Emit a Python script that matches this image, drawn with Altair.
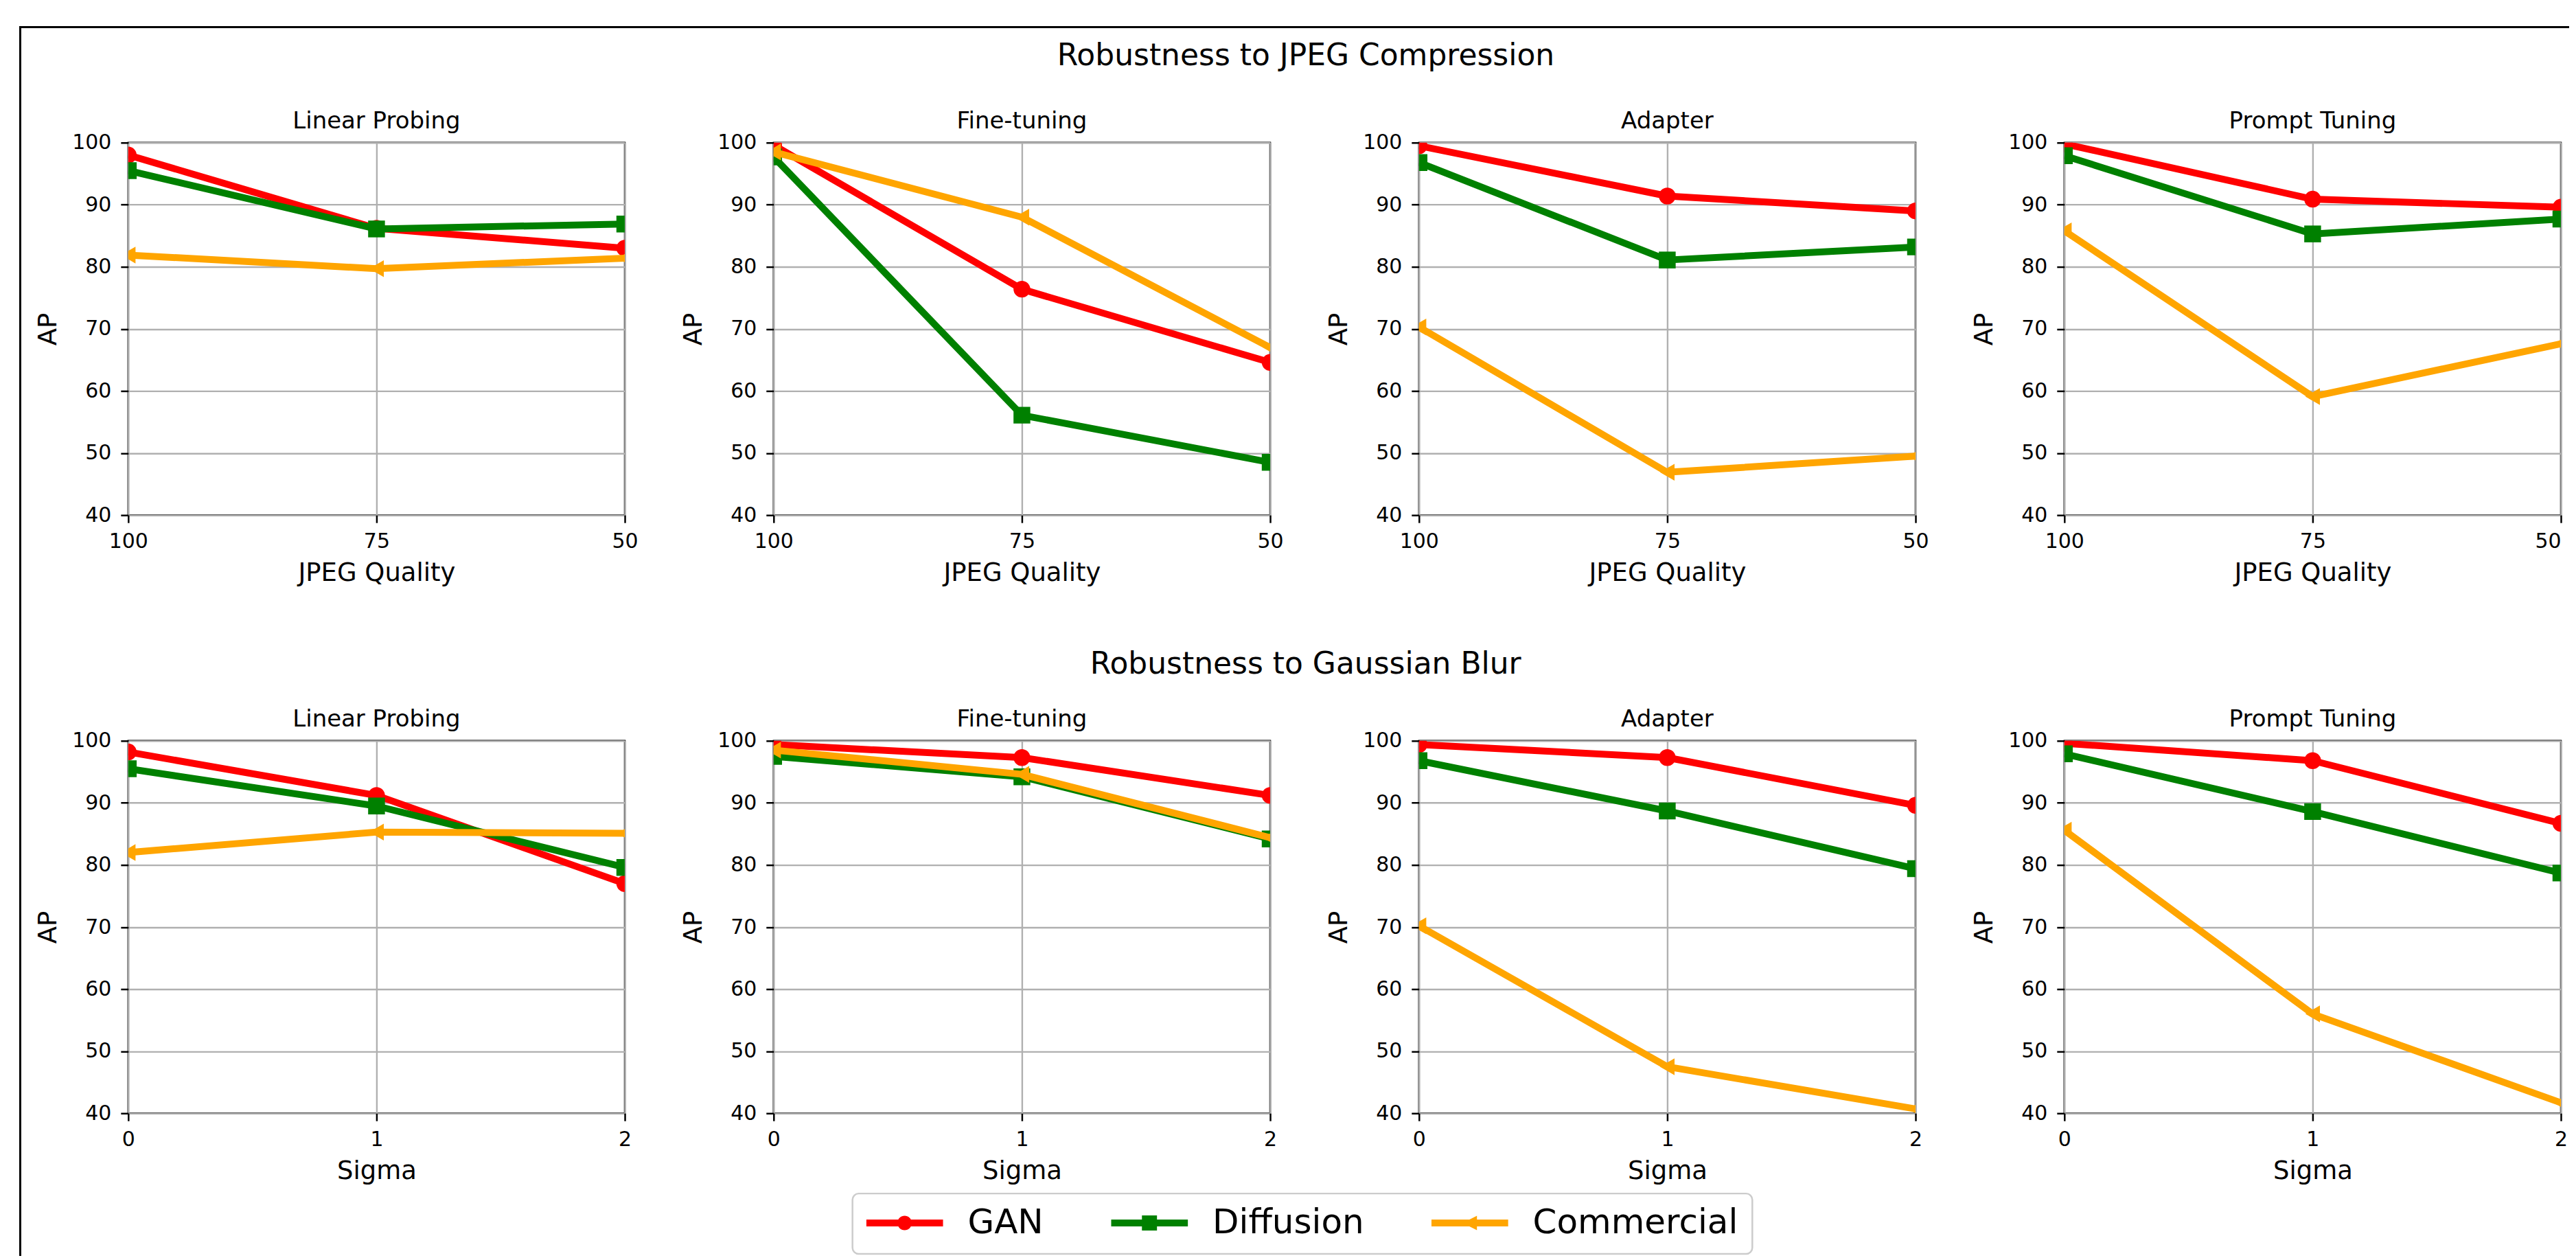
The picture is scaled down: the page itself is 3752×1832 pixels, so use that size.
import altair as alt
import pandas as pd

# ---------------- data ----------------
SERIES = ["GAN", "Diffusion", "Commercial"]
METHODS = ["Linear Probing", "Fine-tuning", "Adapter", "Prompt Tuning"]
JPEG_QUALITY = [100, 75, 50]
SIGMA = [0, 1, 2]
AP_TICKS = [40, 50, 60, 70, 80, 90, 100]

# one inner list per method (METHODS order), values at JPEG quality 100, 75, 50
JPEG_GAN = [[98.0, 86.2, 83.0], [99.6, 76.4, 64.6], [99.5, 91.4, 89.0], [99.8, 90.9, 89.6]]
JPEG_DIFFUSION = [[95.5, 86.1, 86.9], [97.7, 56.1, 48.5], [96.8, 81.1, 83.2], [97.9, 85.3, 87.7]]
JPEG_COMMERCIAL = [[81.9, 79.7, 81.4], [98.5, 88.0, 67.0], [70.3, 46.9, 49.5], [85.8, 59.1, 67.6]]

# values at sigma 0, 1, 2
BLUR_GAN = [[98.2, 91.2, 77.0], [99.4, 97.3, 91.2], [99.4, 97.3, 89.6], [99.6, 96.8, 86.7]]
BLUR_DIFFUSION = [[95.5, 89.5, 79.6], [97.5, 94.2, 84.2], [96.8, 88.7, 79.4], [97.9, 88.6, 78.7]]
BLUR_COMMERCIAL = [[82.0, 85.3, 85.1], [98.5, 94.6, 84.4], [70.2, 47.5, 40.7], [85.6, 56.0, 41.7]]

# ---------------- style ----------------
FONT = "DejaVu Sans"
COLORS = ["#ff0000", "#008000", "#ffa500"]
MARKERS = ["circle", "square", "triangle-left"]
# legend symbols: a line with the series marker in the middle (unit box -1..1)
LEGEND_SYMBOLS = [
    "M-1,-0.089L1,-0.089L1,0.089L-1,0.089Z"
    "M0.1875,0A0.1875,0.1875,0,1,1,-0.1875,0A0.1875,0.1875,0,1,1,0.1875,0Z",
    "M-1,-0.089L1,-0.089L1,0.089L-1,0.089Z"
    "M-0.196,-0.196L0.196,-0.196L0.196,0.196L-0.196,0.196Z",
    "M-1,-0.089L1,-0.089L1,0.089L-1,0.089Z"
    "M-0.1875,0L0.1875,-0.1875L0.1875,0.1875Z",
]
PW, PH = 724, 543
GAP_X = 217


def make_df(xs, groups, m):
    rows = []
    for s, vals in zip(SERIES, groups):
        for xv, v in zip(xs, vals[m]):
            rows.append({"x": xv, "ap": v, "series": s})
    return pd.DataFrame(rows)


def frame_piece(x0, x1, y0, y1):
    # decorative figure border (matplotlib figure frame)
    return alt.Chart(pd.DataFrame({"piece": [0]})).mark_rect(color="black").encode(
        x=alt.value(x0), x2=alt.value(x1), y=alt.value(y0), y2=alt.value(y1)
    )


def jpeg_x(right_last):
    axis_args = dict(values=JPEG_QUALITY, tickCount=len(JPEG_QUALITY), title="JPEG Quality", format="d")
    if right_last:
        axis_args["labelAlign"] = {
            "condition": {"test": f"datum.value == {JPEG_QUALITY[-1]}", "value": "right"},
            "value": "center",
        }
    return alt.X("x:Q", scale=alt.Scale(domain=[50, 100], reverse=True, nice=False, zero=False),
                 axis=alt.Axis(**axis_args))


def sigma_x():
    return alt.X("x:O", scale=alt.Scale(type="point", padding=0, domain=SIGMA),
                 axis=alt.Axis(title="Sigma", labelAngle=0, grid=True))


def panel(m, groups, x, xs, extras, title_offset, legend_layer=None):
    df = make_df(xs, groups, m)
    y = alt.Y("ap:Q", scale=alt.Scale(domain=[40, 100], nice=False, zero=False),
              axis=alt.Axis(values=AP_TICKS, tickCount=len(AP_TICKS), title="AP"))
    layers = list(extras)
    for s, c, mk in zip(SERIES, COLORS, MARKERS):
        base = alt.Chart(df).transform_filter(alt.datum.series == s).encode(x=x, y=y)
        layers.append(base.mark_line(color=c, strokeWidth=10, strokeJoin="round", clip=True))
        layers.append(base.mark_point(shape=mk, filled=True, color=c, size=600, opacity=1,
                                      strokeWidth=0, clip=True))
    if legend_layer is not None:
        layers.append(legend_layer)
    return alt.layer(*layers).properties(
        width=PW, height=PH,
        title=alt.TitleParams(text=METHODS[m], fontSize=34, font=FONT, fontWeight="normal",
                              color="black", anchor="middle", frame="group",
                              baseline="alphabetic", offset=title_offset),
    )


legend_spec = alt.Legend(
    title=None, orient="none", legendX=1056, legendY=1532, direction="horizontal", columns=3,
    symbolSize=12544, symbolStrokeWidth=0, symbolOpacity=1, clipHeight=46,
    labelFont=FONT, labelFontSize=50, labelColor="black", labelOffset=36, labelLimit=600,
    columnPadding=98, padding=20, strokeColor="#cccccc", fillColor="white", cornerRadius=9,
)
legend_layer = alt.Chart(pd.DataFrame({"series": SERIES})).transform_filter("false").mark_point(
    filled=True, opacity=1, strokeWidth=0
).encode(
    color=alt.Color("series:N", scale=alt.Scale(domain=SERIES, range=COLORS), legend=legend_spec),
    shape=alt.Shape("series:N", scale=alt.Scale(domain=SERIES, range=LEGEND_SYMBOLS), legend=legend_spec),
)

jpeg_groups = [JPEG_GAN, JPEG_DIFFUSION, JPEG_COMMERCIAL]
blur_groups = [BLUR_GAN, BLUR_DIFFUSION, BLUR_COMMERCIAL]

row1_panels = []
for m in range(4):
    extras = [frame_piece(-159, 3559, -170, -167), frame_piece(-159, -156, -170, 701)] if m == 0 else []
    row1_panels.append(panel(m, jpeg_groups, jpeg_x(m == 3), JPEG_QUALITY, extras,
                             -183 if m == 0 else -28))

row2_panels = []
for m in range(4):
    extras = [frame_piece(-159, -156, -173, 751)] if m == 0 else []
    row2_panels.append(panel(m, blur_groups, sigma_x(), SIGMA, extras,
                             -186 if m == 0 else -28, legend_layer=legend_layer if m == 3 else None))


def row_title(text, offset, dx):
    return alt.TitleParams(text=text, fontSize=44, font=FONT, fontWeight="normal", color="black",
                           anchor="middle", frame="bounds", baseline="alphabetic", offset=offset, dx=dx)


row1 = alt.hconcat(*row1_panels, spacing=GAP_X, bounds="flush",
                   title=row_title("Robustness to JPEG Compression", -102, 17))
row2 = alt.hconcat(*row2_panels, spacing=GAP_X, bounds="flush",
                   title=row_title("Robustness to Gaussian Blur", -120, 18))

chart = alt.vconcat(row1, row2, spacing=-6).properties(
    padding={"left": 18, "top": 27, "right": 0, "bottom": 0}
).configure(
    font=FONT
).configure_view(
    stroke="black", strokeWidth=2.5
).configure_axis(
    labelFont=FONT, labelFontSize=30, labelColor="black",
    titleFont=FONT, titleFontSize=37, titleFontWeight="normal", titleColor="black",
    tickColor="black", tickWidth=2.5, tickSize=11, domain=False,
    gridColor="#b0b0b0", gridWidth=2.4, gridOpacity=1,
    labelFlush=False, labelOverlap=False,
).configure_axisX(
    labelPadding=12, titlePadding=13
).configure_axisY(
    labelPadding=14, titlePadding=15
).configure_legend(
    strokeWidth=2.5
)

chart.save("out.html", embed_options={"renderer": "svg", "actions": False})
